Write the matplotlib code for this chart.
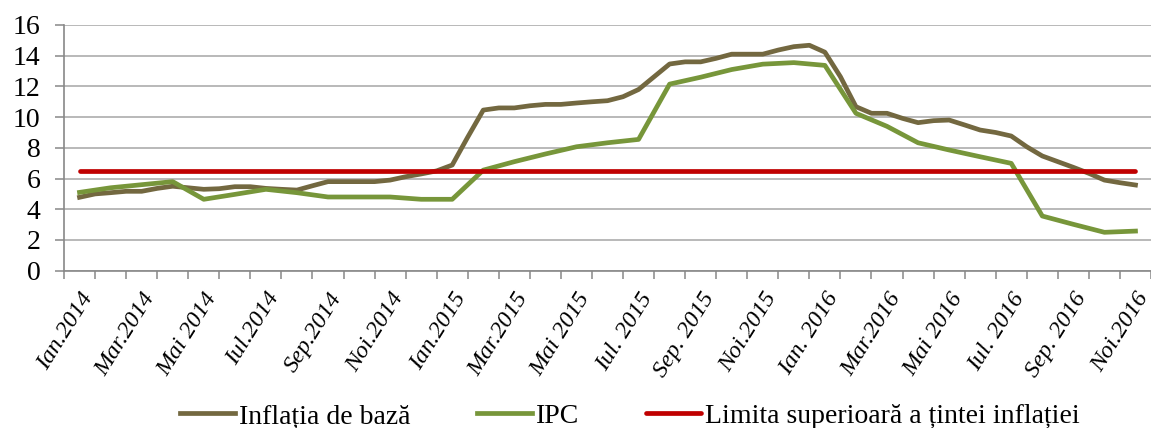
import matplotlib
matplotlib.use("Agg")
import matplotlib.pyplot as plt
from matplotlib.transforms import ScaledTranslation
import numpy as np

# ---- data ----
months = ["Ian.2014", "Feb.2014", "Mar.2014", "Apr.2014", "Mai 2014", "Iun.2014",
          "Iul.2014", "Aug.2014", "Sep.2014", "Oct.2014", "Noi.2014", "Dec.2014",
          "Ian.2015", "Feb.2015", "Mar.2015", "Apr.2015", "Mai 2015", "Iun. 2015",
          "Iul. 2015", "Aug. 2015", "Sep. 2015", "Oct.2015", "Noi.2015", "Dec.2015",
          "Ian. 2016", "Feb.2016", "Mar.2016", "Apr.2016", "Mai 2016", "Iun. 2016",
          "Iul. 2016", "Aug. 2016", "Sep. 2016", "Oct.2016", "Noi.2016"]

ipc = [5.1, 5.4, 5.6, 5.8, 4.65, 4.97, 5.3, 5.08, 4.8, 4.8, 4.8, 4.65,
       4.65, 6.55, 7.1, 7.6, 8.07, 8.33, 8.55, 12.15, 12.6, 13.1, 13.45, 13.55,
       13.37, 10.25, 9.4, 8.33, 7.86, 7.42, 6.99, 3.56, 3.02, 2.5, 2.58]

# core inflation, read at half-month resolution
core = [4.78, 5.0, 5.08, 5.17, 5.17, 5.36, 5.5, 5.4, 5.3, 5.34,
        5.47, 5.47, 5.36, 5.3, 5.25, 5.53, 5.8, 5.8, 5.8, 5.8,
        5.9, 6.12, 6.3, 6.5, 6.88, 8.7, 10.46, 10.6, 10.6, 10.74,
        10.83, 10.83, 10.92, 11.0, 11.07, 11.33, 11.8, 12.63, 13.46, 13.6,
        13.6, 13.83, 14.1, 14.1, 14.1, 14.37, 14.59, 14.68, 14.23, 12.63,
        10.68, 10.25, 10.25, 9.92, 9.64, 9.77, 9.81, 9.49, 9.16, 9.0,
        8.77, 8.07, 7.47, 7.1, 6.73, 6.34, 5.9, 5.73, 5.58]

target_upper = [6.5] * len(months)

# ---- figure ----
W, H = 1151, 428
fig = plt.figure(figsize=(W / 100, H / 100), dpi=100)
left, right, top, bottom = 64, 1151, 25, 270.7
ax = fig.add_axes([left / W, 1 - bottom / H, (right - left) / W, (bottom - top) / H])

serif = ["Liberation Serif", "DejaVu Serif"]
brown = "#736840"
green = "#77963A"
red = "#C00000"

xm = np.arange(len(months))
xc = np.arange(len(core)) / 2.0

ax.plot(xc, core, color=brown, lw=3.4, solid_joinstyle="round", label="Inflația de bază", zorder=3)
ax.plot(xm, ipc, color=green, lw=3.4, solid_joinstyle="round", label="IPC", zorder=3)
ax.plot(xm, target_upper, color=red, lw=3.4, solid_capstyle="round",
        label="Limita superioară a țintei inflației", zorder=4)

ax.set_ylim(0, 16)
ax.set_xlim(-0.5, (W - 79.5) / 31.5)
ax.set_yticks(np.arange(0, 17, 2))
ax.yaxis.grid(True, color="#A6A6A6", lw=1.1)
ax.set_axisbelow(True)

for s in ["top", "right"]:
    ax.spines[s].set_visible(False)
for s in ["left", "bottom"]:
    ax.spines[s].set_color("#888888")
    ax.spines[s].set_linewidth(1.2)

ax.set_xticks(xm[::2])
ax.set_xticklabels(months[::2], rotation=58, ha="right", rotation_mode="anchor",
                   family=serif, style="italic", fontsize=17.5)
shift = ScaledTranslation(-6 / 100, 0, fig.dpi_scale_trans)
for lab in ax.get_xticklabels():
    lab.set_transform(lab.get_transform() + shift)
ax.set_xticks(np.arange(-0.5, len(months), 1.0), minor=True)
ax.tick_params(axis="x", which="major", length=0, pad=13)
ax.tick_params(axis="x", which="minor", length=5.5, color="#888888", width=1.1)
ax.tick_params(axis="y", length=6.5, color="#888888", width=1.1, pad=10.5)
for lab in ax.get_yticklabels():
    lab.set_family(serif)
    lab.set_fontsize(20)

fig.legend(loc="center", bbox_to_anchor=(0.547, 0.027), ncol=3, frameon=False,
           prop={"family": serif, "size": 20}, handlelength=2.0, handletextpad=0.12,
           columnspacing=2.4)

fig.savefig("out.png", dpi=100)
